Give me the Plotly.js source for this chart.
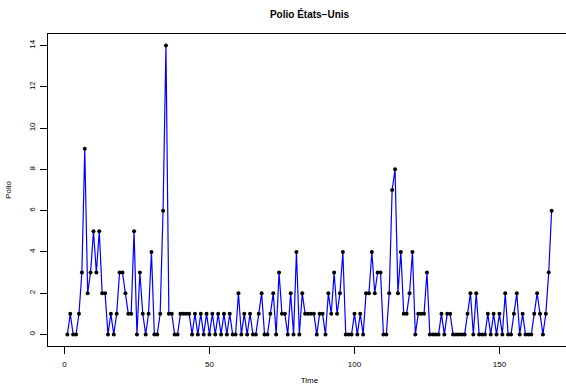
<!DOCTYPE html>
<html>
<head>
<meta charset="utf-8">
<script src="https://cdn.plot.ly/plotly-3.0.1.min.js"></script>
<style>
  html, body { margin: 0; padding: 0; overflow: hidden; background: #fff; }
  #chart { width: 582px; height: 386px; }
</style>
</head>
<body>
<div id="chart"></div>
<script>
// Monthly polio counts, USA, 1970–1983
const y1970 = [0, 1, 0, 0, 1, 3, 9, 2, 3, 5, 3, 5];
const y1971 = [2, 2, 0, 1, 0, 1, 3, 3, 2, 1, 1, 5];
const y1972 = [0, 3, 1, 0, 1, 4, 0, 0, 1, 6, 14, 1];
const y1973 = [1, 0, 0, 1, 1, 1, 1, 0, 1, 0, 1, 0];
const y1974 = [1, 0, 1, 0, 1, 0, 1, 0, 1, 0, 0, 2];
const y1975 = [0, 1, 0, 1, 0, 0, 1, 2, 0, 0, 1, 2];
const y1976 = [0, 3, 1, 1, 0, 2, 0, 4, 0, 2, 1, 1];
const y1977 = [1, 1, 0, 1, 1, 0, 2, 1, 3, 1, 2, 4];
const y1978 = [0, 0, 0, 1, 0, 1, 0, 2, 2, 4, 2, 3];
const y1979 = [3, 0, 0, 2, 7, 8, 2, 4, 1, 1, 2, 4];
const y1980 = [0, 1, 1, 1, 3, 0, 0, 0, 0, 1, 0, 1];
const y1981 = [1, 0, 0, 0, 0, 0, 1, 2, 0, 2, 0, 0];
const y1982 = [0, 1, 0, 1, 0, 1, 0, 2, 0, 0, 1, 2];
const y1983 = [0, 1, 0, 0, 0, 1, 2, 1, 0, 1, 3, 6];

const xTicks = [0, 50, 100, 150];
const yTicks = [0, 2, 4, 6, 8, 10, 12, 14];

const polio = [].concat(y1970, y1971, y1972, y1973, y1974, y1975, y1976,
                        y1977, y1978, y1979, y1980, y1981, y1982, y1983);
const time = polio.map((_, i) => i + 1);

const trace = {
  x: time,
  y: polio,
  type: 'scatter',
  mode: 'lines+markers',
  line: { color: '#0000ff', width: 1.2 },
  marker: { color: '#000000', size: 4 },
  hoverinfo: 'skip'
};

const axisFont = { family: 'Liberation Sans, Arial, sans-serif', size: 8, color: '#000' };

const layout = {
  width: 582,
  height: 386,
  margin: { l: 48, r: 11, t: 34, b: 40, pad: 0 },
  paper_bgcolor: '#fff',
  plot_bgcolor: '#fff',
  showlegend: false,
  font: { family: 'Liberation Sans, Arial, sans-serif', color: '#000' },
  title: {
    text: '<b>Polio États−Unis</b>',
    font: { family: 'Liberation Sans, Arial, sans-serif', size: 10, color: '#000' },
    x: 0.5, xref: 'paper', xanchor: 'center',
    y: 1 - 14 / 386, yref: 'container', yanchor: 'middle'
  },
  xaxis: {
    range: [-5.68, 174.68],
    tickmode: 'array',
    tickvals: xTicks,
    ticktext: xTicks.map(String),
    ticks: 'outside', ticklen: 7, tickwidth: 1, tickcolor: '#000',
    showgrid: false, zeroline: false,
    showline: true, mirror: true, linecolor: '#000', linewidth: 1,
    tickfont: axisFont,
    ticklabelstandoff: 3,
    title: { text: 'Time', font: axisFont, standoff: 9 }
  },
  yaxis: {
    range: [-0.56, 14.56],
    tickmode: 'array',
    tickvals: yTicks,
    ticktext: yTicks.map(String),
    tickangle: -90,
    ticks: 'outside', ticklen: 7, tickwidth: 1, tickcolor: '#000',
    showgrid: false, zeroline: false,
    showline: true, mirror: true, linecolor: '#000', linewidth: 1,
    tickfont: axisFont,
    ticklabelstandoff: 2,
    title: { text: 'Polio', font: axisFont, standoff: 14 }
  }
};

Plotly.newPlot('chart', [trace], layout, { displayModeBar: false, staticPlot: true });
</script>
</body>
</html>
